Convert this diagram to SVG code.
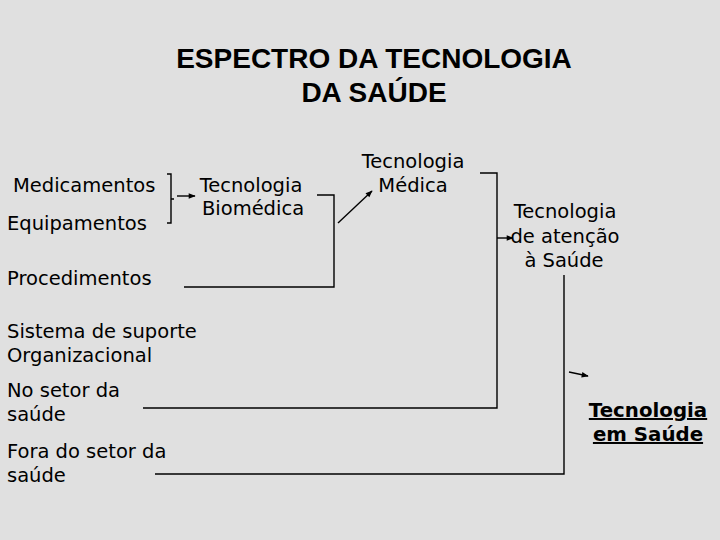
<svg xmlns="http://www.w3.org/2000/svg" width="720" height="540" viewBox="0 0 720 540">
<defs>
<style>
.t{font-family:"DejaVu Sans","Liberation Sans",sans-serif;font-size:19.5px;fill:#000}
.c{text-anchor:middle}
.h{font-family:"Liberation Sans",Arial,sans-serif;font-size:28px;font-weight:bold;fill:#000;text-anchor:middle}
.b{font-weight:bold;text-decoration:underline;font-size:19.8px}
.ln{fill:none;stroke:#000;stroke-width:1.4}
</style>
<marker id="ah" viewBox="0 0 10 10" refX="9" refY="5" markerWidth="8" markerHeight="7" orient="auto" markerUnits="userSpaceOnUse"><path d="M0,1 L10,5 L0,9 Z" fill="#000"/></marker>
</defs>
<rect width="720" height="540" fill="#e0e0e0"/>
<g id="title">
<text class="h" x="374" y="68">ESPECTRO DA TECNOLOGIA</text>
<text class="h" x="374" y="102">DA SAÚDE</text>
</g>
<g id="medicamentos"><text class="t" x="13" y="192">Medicamentos</text></g>
<g id="equipamentos"><text class="t" x="7" y="230">Equipamentos</text></g>
<g id="procedimentos"><text class="t" x="7" y="285">Procedimentos</text></g>
<g id="sistema"><text class="t" x="7" y="338">Sistema de suporte</text><text class="t" x="7" y="362">Organizacional</text></g>
<g id="nosetor"><text class="t" x="7" y="397">No setor da</text><text class="t" x="7" y="421">saúde</text></g>
<g id="forasetor"><text class="t" x="7" y="458">Fora do setor da</text><text class="t" x="7" y="482">saúde</text></g>
<g id="biomedica"><text class="t c" x="251" y="192">Tecnologia</text><text class="t c" x="253" y="215">Biomédica</text></g>
<g id="medica"><text class="t c" x="413" y="168">Tecnologia</text><text class="t c" x="413" y="192">Médica</text></g>
<g id="atencao"><text class="t c" x="565" y="218">Tecnologia</text><text class="t c" x="565" y="243">de atenção</text><text class="t c" x="564" y="267">à Saúde</text></g>
<g id="saude"><text class="t c b" x="648" y="417">Tecnologia</text><text class="t c b" x="648" y="441">em Saúde</text></g>
<g id="connectors">
<path class="ln" d="M167,174 H171 V223 H167 M171,199 H174"/>
<line class="ln" x1="177" y1="196" x2="195" y2="196" marker-end="url(#ah)"/>
<path class="ln" d="M317,195 H334 V287 H184"/>
<line class="ln" x1="338" y1="223" x2="372" y2="191" marker-end="url(#ah)"/>
<path class="ln" d="M480,173 H497 V408 H143"/>
<line class="ln" x1="497" y1="238" x2="513" y2="238" marker-end="url(#ah)"/>
<path class="ln" d="M564,275 V474 H155"/>
<line class="ln" x1="569" y1="372" x2="588" y2="376" marker-end="url(#ah)"/>
</g>
</svg>
